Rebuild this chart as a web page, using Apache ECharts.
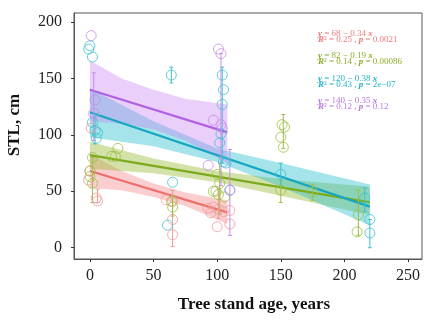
<!DOCTYPE html>
<html><head><meta charset="utf-8">
<script src="https://cdn.jsdelivr.net/npm/echarts@6/dist/echarts.min.js"></script>
<style>html,body{margin:0;padding:0;background:#fff}#c{width:424px;height:323px}</style>
</head><body><div id="c"></div>
<script>
const xTicks = [0, 50, 100, 150, 200, 250];
const yTicks = [0, 50, 100, 150, 200];
const xTitle = 'Tree stand age, years';
const yTitle = 'STL, cm';

// regression lines [age, STL]
const redLine = [[0, 68], [108, 31.3]];
const greenLine = [[0, 82], [220, 40.2]];
const cyanLine = [[0, 120], [220, 36.4]];
const purpleLine = [[0, 140], [108, 102.2]];

// confidence bands [age, lower, upper]
const redBand = [[0, 53, 83], [25, 51, 68], [50, 45, 57], [75, 37, 49], [108, 21, 42]];
const greenBand = [[0, 70, 94], [50, 66, 79], [100, 58, 68], [150, 46, 61], [220, 29, 54]];
const cyanBand = [[0, 98, 141], [50, 90, 112], [100, 76, 88], [150, 54, 75], [220, 20, 56]];
const purpleBand = [[0, 112, 166], [25, 110, 150], [50, 105, 140], [75, 95, 132], [108, 75, 127]];

// observations [age, STL, (err low, err high)]
const redPts = [[1, 106], [0, 68], [-1, 60], [5, 44], [6, 41.5, 40, 52],
  [60, 42.5], [65, 41], [65, 25, 1, 51], [65, 11.5],
  [93, 35], [95, 31], [97, 36], [101, 34, 26, 52], [100, 18.6], [110, 33], [110, 21], [105, 32]];
const greenPts = [[2, 80], [0, 68], [0, 63], [2, 57, 40, 80], [17, 81], [20, 81], [22, 88],
  [65, 36, 28, 46], [64, 41],
  [97, 50], [99, 50], [100, 65], [102, 57, 30, 75], [101, 47], [106, 45],
  [151, 109], [153, 107], [150, 98], [152, 89, 88, 118], [150, 51, 40, 60],
  [175, 49.5, 42, 56], [211, 29, 11, 51], [210, 14]];
const cyanPts = [[0, 179], [-1, 176], [2, 169], [2, 111], [4, 104, 92, 118], [6, 102], [5, 97],
  [64, 153, 146, 160], [65, 58], [61, 20],
  [104, 153], [105, 140], [104, 127, 75, 160], [103, 101], [102, 93], [105, 76], [107, 75], [110, 51],
  [150, 65, 55, 75], [216, 44, 32, 53], [220, 25], [220, 13, 0, 25]];
const purplePts = [[1, 188], [4, 131], [3, 119, 95, 155],
  [101, 176], [103, 172], [97, 113], [103, 109, 55, 172], [104, 106], [93, 73], [110, 51, 11, 87]];

const groups = [
  {line: redLine, band: redBand, pts: redPts, lc: '#EC6F6B', bc: 'rgba(240,120,120,0.36)', pc: '#F29A9A', tc: '#EE7B7B',
    eq: ['68 − 0.34', '0.25', '0.0021'], ty: 30},
  {line: greenLine, band: greenBand, pts: greenPts, lc: '#7DAA1C', bc: 'rgba(150,185,50,0.42)', pc: '#9DBF45', tc: '#8AAE2C',
    eq: ['82 − 0.19', '0.14', '0.00086'], ty: 52},
  {line: cyanLine, band: cyanBand, pts: cyanPts, lc: '#15A6C2', bc: 'rgba(40,190,205,0.42)', pc: '#3EC0D0', tc: '#22B3C6',
    eq: ['120 − 0.38', '0.43', '2e−07'], ty: 75},
  {line: purpleLine, band: purpleBand, pts: purplePts, lc: '#B060E0', bc: 'rgba(200,130,242,0.38)', pc: '#C98BEA', tc: '#B878E4',
    eq: ['140 − 0.35', '0.12', '0.12'], ty: 97}
];

function bandSeries(band, color) {
  return {
    type: 'custom', z: 1, silent: true, data: [[0, 0]], encode: {x: 0, y: 1},
    renderItem: (params, api) => {
      const up = band.map(d => api.coord([d[0], d[2]]));
      const lo = band.slice().reverse().map(d => api.coord([d[0], d[1]]));
      return {type: 'polygon', shape: {points: up.concat(lo)}, style: {fill: color}};
    }
  };
}
function errSeries(pts, color) {
  return {
    type: 'custom', z: 4, silent: true,
    data: pts.filter(p => p.length > 2).map(p => [p[0], p[2], p[3]]),
    encode: {x: 0, y: [1, 2]},
    renderItem: (params, api) => {
      const x = api.value(0);
      const lo = api.coord([x, api.value(1)]);
      const hi = api.coord([x, api.value(2)]);
      const w = 2;
      const st = {stroke: color, lineWidth: 1};
      return {type: 'group', children: [
        {type: 'line', shape: {x1: lo[0], y1: lo[1], x2: hi[0], y2: hi[1]}, style: st},
        {type: 'line', shape: {x1: lo[0] - w, y1: lo[1], x2: lo[0] + w, y2: lo[1]}, style: st},
        {type: 'line', shape: {x1: hi[0] - w, y1: hi[1], x2: hi[0] + w, y2: hi[1]}, style: st}
      ]};
    }
  };
}

const series = [];
groups.forEach(g => series.push(bandSeries(g.band, g.bc)));
groups.forEach(g => series.push({
  type: 'line', z: 3, data: g.line, symbol: 'none', silent: true,
  lineStyle: {color: g.lc, width: 2.2}
}));
groups.forEach(g => {
  series.push(errSeries(g.pts, g.pc));
  series.push({
    type: 'scatter', z: 5, silent: true, data: g.pts.map(p => [p[0], p[1]]),
    symbol: 'circle', symbolSize: 10,
    itemStyle: {color: 'rgba(255,255,255,0)', borderColor: g.pc, borderWidth: 1}
  });
});

const graphics = [];
groups.forEach(g => {
  graphics.push({
    type: 'text', x: 318, y: g.ty,
    style: {
      text: '{i|y} = ' + g.eq[0] + ' {i|x}\n{i|R}² = ' + g.eq[1] + ' , {i|p} = ' + g.eq[2],
      fill: g.tc, font: '9px "Liberation Serif"', lineHeight: 6.5,
      rich: {i: {fontStyle: 'italic', fontWeight: 'bold', fontSize: 9, fontFamily: 'Liberation Serif', fill: g.tc, lineHeight: 6.5}}
    }
  });
});
graphics.push({type: 'text', x: 254, y: 296,
  style: {text: xTitle, fill: '#111', font: 'bold 17px "Liberation Serif"', textAlign: 'center'}});
graphics.push({type: 'text', x: 15, y: 125, rotation: Math.PI / 2,
  style: {text: yTitle, fill: '#111', font: 'bold 17px "Liberation Serif"', textAlign: 'center', textVerticalAlign: 'middle'}});

const chart = echarts.init(document.getElementById('c'), null, {renderer: 'canvas'});
const option = {
  animation: false,
  backgroundColor: '#fff',
  grid: {left: 74, top: 13, right: 2, bottom: 64, show: true, borderColor: '#555', borderWidth: 1},
  xAxis: {
    type: 'value', min: -12.5, max: 261, splitLine: {show: false},
    axisLine: {show: true, onZero: false, lineStyle: {color: '#555'}},
    axisTick: {show: true, length: 3, lineStyle: {color: '#333'}, customValues: xTicks},
    axisLabel: {customValues: xTicks, margin: 9, color: '#222', fontSize: 16, fontFamily: 'Liberation Serif'}
  },
  yAxis: {
    type: 'value', min: -10, max: 208, splitLine: {show: false},
    axisLine: {show: true, onZero: false, lineStyle: {color: '#555'}},
    axisTick: {show: true, length: 3, lineStyle: {color: '#333'}, customValues: yTicks},
    axisLabel: {customValues: yTicks, margin: 12, color: '#222', fontSize: 16, fontFamily: 'Liberation Serif'}
  },
  graphic: graphics,
  series: series
};
chart.setOption(option);
</script>
</body></html>
